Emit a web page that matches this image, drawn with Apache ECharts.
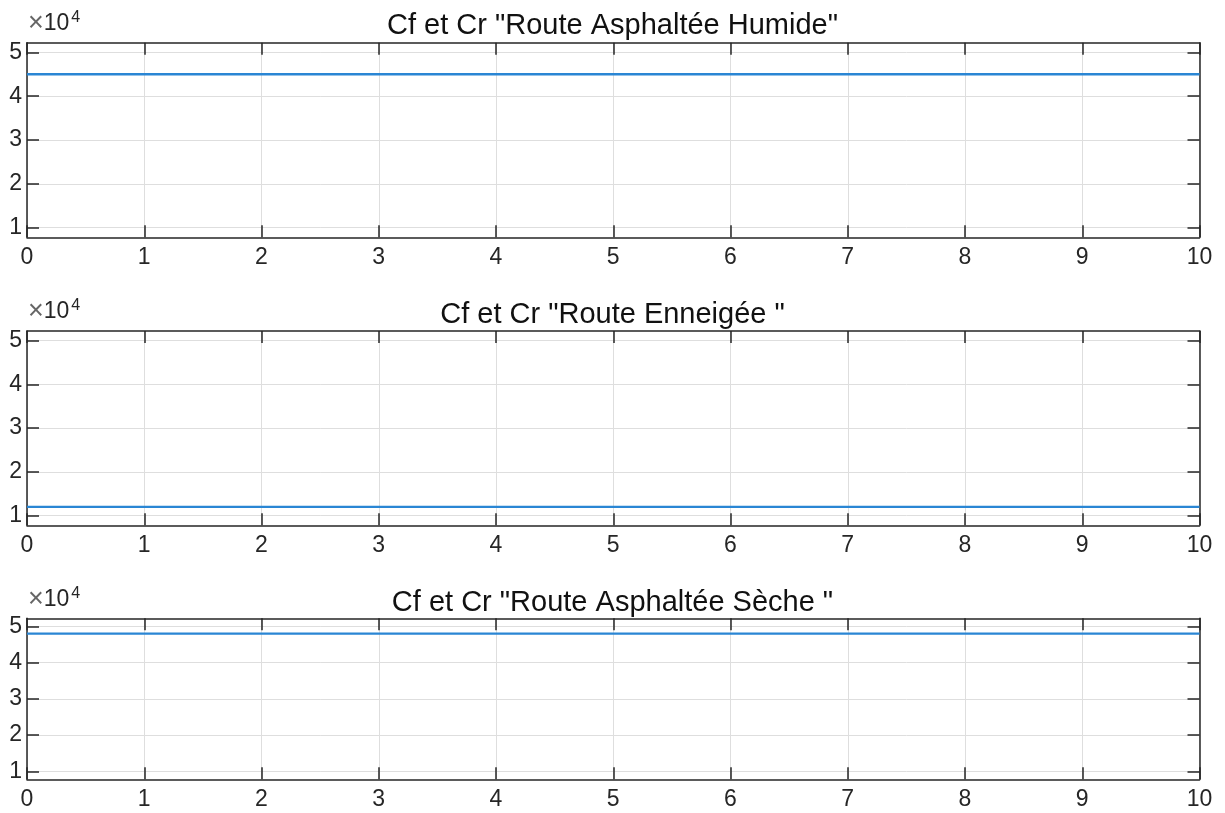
<!DOCTYPE html>
<html>
<head>
<meta charset="utf-8">
<script src="https://cdn.jsdelivr.net/npm/echarts@6/dist/echarts.min.js"></script>
<style>
    html, body { margin: 0; padding: 0; background: #fff; }
    #main { width: 1225px; height: 813px; }
</style>
</head>
<body>
<div id="main"></div>
<script>
// data
const timeS = [0, 10];
const humide = [45000, 45000];
const enneigee = [12000, 12000];
const seche = [48000, 48000];
const titles = [
    'Cf et Cr "Route Asphaltée Humide"',
    'Cf et Cr "Route Enneigée "',
    'Cf et Cr "Route Asphaltée Sèche "'
];
const yTicks = [10000, 20000, 30000, 40000, 50000];
const yMin = 7780;
const yMax = 52220;

const chart = echarts.init(document.getElementById("main"));

const font = "'Liberation Sans', Arial, Helvetica, sans-serif";
const ink = "#262626";
const seriesData = [humide, enneigee, seche];

// plot boxes (top, height)
const boxes = [
    { top: 42.7, height: 194.6 },
    { top: 331, height: 194.3 },
    { top: 618.3, height: 161 }
];
const titleTops = [6, 295, 583];

let grids = [], xAxes = [], yAxes = [], series = [], titleList = [];

boxes.forEach(function (b, i) {
    grids.push({
        left: 27,
        right: 25.5,
        top: b.top,
        height: b.height,
        containLabel: false,
        outerBoundsMode: "none"
    });
    titleList.push({
        text: titles[i],
        left: "center",
        top: titleTops[i],
        textStyle: { fontFamily: font, fontSize: 29, fontWeight: "normal", color: "#111" }
    });
    // bottom x axis with labels
    xAxes.push({
        type: "value",
        gridIndex: i,
        position: "bottom",
        min: 0,
        max: 10,
        interval: 1,
        axisLine: { show: true, onZero: false, lineStyle: { color: ink, width: 1.5 } },
        axisTick: { show: true, inside: true, length: 12, lineStyle: { color: ink, width: 1.5 } },
        axisLabel: {
            show: true, margin: 9, color: ink, fontFamily: font, fontSize: 23,
            showMinLabel: true, showMaxLabel: true, hideOverlap: false
        },
        splitLine: { show: true, lineStyle: { color: "#dedede", width: 1 } }
    });
    // top x axis, ticks only
    xAxes.push({
        type: "value",
        gridIndex: i,
        position: "top",
        min: 0,
        max: 10,
        interval: 1,
        axisLine: { show: true, onZero: false, lineStyle: { color: ink, width: 1.5 } },
        axisTick: { show: true, inside: true, length: 12, lineStyle: { color: ink, width: 1.5 } },
        axisLabel: { show: false },
        splitLine: { show: false }
    });
    // left y axis with labels
    yAxes.push({
        type: "value",
        gridIndex: i,
        position: "left",
        min: yMin,
        max: yMax,
        name: "{x|×}{t|10}{s|4}",
        nameLocation: "end",
        nameGap: 5,
        nameTextStyle: {
            align: "left",
            verticalAlign: "bottom",
            padding: [0, 0, 0, 1],
            rich: {
                x: { fontFamily: font, fontSize: 27, color: "#666" },
                t: { fontFamily: font, fontSize: 23, color: ink },
                s: { fontFamily: font, fontSize: 16, color: ink, padding: [0, 0, 12, 2] }
            }
        },
        axisLine: { show: true, onZero: false, lineStyle: { color: ink, width: 1.5 } },
        axisTick: { show: true, inside: true, length: 12, customValues: yTicks, lineStyle: { color: ink, width: 1.5 } },
        axisLabel: {
            show: true, margin: 5, color: ink, fontFamily: font, fontSize: 23,
            customValues: yTicks,
            formatter: function (v) { return String(Math.round(v / 10000)); }
        },
        splitLine: { show: true, lineStyle: { color: "#dedede", width: 1 } }
    });
    // right y axis, ticks only
    yAxes.push({
        type: "value",
        gridIndex: i,
        position: "right",
        min: yMin,
        max: yMax,
        axisLine: { show: true, onZero: false, lineStyle: { color: ink, width: 1.5 } },
        axisTick: { show: true, inside: true, length: 12, customValues: yTicks, lineStyle: { color: ink, width: 1.5 } },
        axisLabel: { show: false },
        splitLine: { show: false }
    });
    series.push({
        type: "line",
        xAxisIndex: 2 * i,
        yAxisIndex: 2 * i,
        showSymbol: false,
        silent: true,
        lineStyle: { color: "#2a86d4", width: 2.4 },
        data: timeS.map(function (t, k) { return [t, seriesData[i][k]]; })
    });
});

const option = {
    backgroundColor: "#fff",
    animation: false,
    title: titleList,
    grid: grids,
    xAxis: xAxes,
    yAxis: yAxes,
    series: series
};

option && chart.setOption(option);
</script>
</body>
</html>
